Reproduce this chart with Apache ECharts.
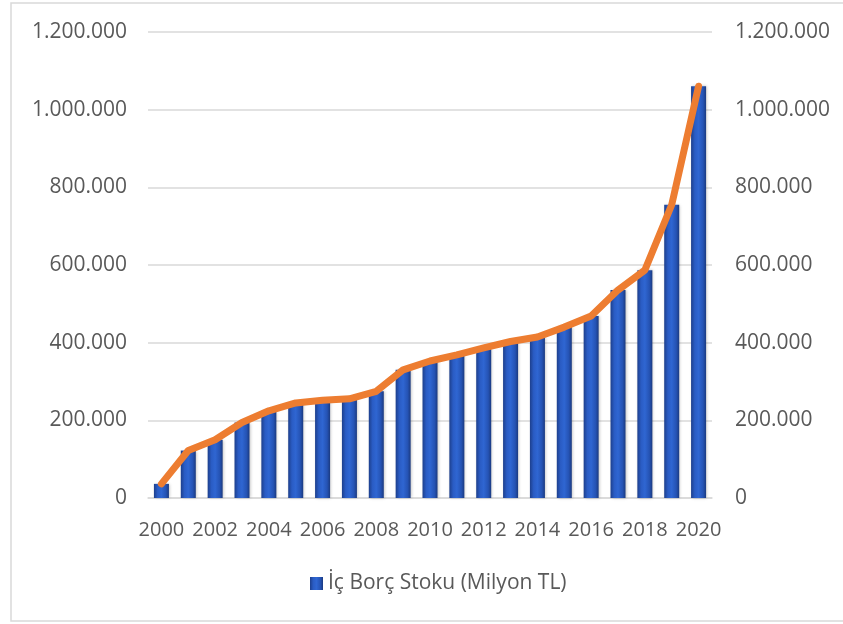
<!DOCTYPE html>
<html><head><meta charset="utf-8">
<script src="https://cdn.jsdelivr.net/npm/echarts@6/dist/echarts.min.js"></script>
<style>html,body{margin:0;padding:0;background:#fff}#c{width:843px;height:624px}</style>
</head><body><div id="c"></div>
<script>
const years = ['2000','2001','2002','2003','2004','2005','2006','2007','2008','2009','2010','2011','2012','2013','2014','2015','2016','2017','2018','2019','2020'];
const debtStock = [36400,122200,149900,194400,224500,244800,251500,255300,274800,330000,352800,368500,386500,403000,414600,440100,468600,535400,586700,755100,1060400];
const seriesName = 'İç Borç Stoku (Milyon TL)';

const fmt = v => String(v).replace(/\B(?=(\d{3})+(?!\d))/g, '.');
const chart = echarts.init(document.getElementById('c'), null, {renderer:'canvas'});
const font = 'Open Sans, Liberation Sans, sans-serif';
const barGrad = new echarts.graphic.LinearGradient(0,0,1,0,[
  {offset:0,color:'#1d3f8c'},{offset:0.25,color:'#2a5cc4'},{offset:0.5,color:'#2f66d2'},{offset:0.8,color:'#2553b4'},{offset:1,color:'#1b3a80'}]);
chart.setOption({
  animation:false,
  backgroundColor:'#fff',
  graphic:[{type:'rect',shape:{x:11,y:3,width:840,height:618},style:{fill:'none',stroke:'#d9d9d9',lineWidth:1.5},silent:true}],
  grid:{left:148,right:131,top:32,bottom:126,containLabel:false},
  legend:{data:[{name:seriesName,icon:'rect',itemStyle:{color:barGrad}}],bottom:25,left:305,itemWidth:13,itemHeight:13,itemGap:6,
    textStyle:{fontFamily:font,fontSize:21,color:'#595959'}},
  xAxis:{type:'category',data:years,
    axisLine:{lineStyle:{color:'#d9d9d9',width:1.5}},axisTick:{show:false},
    axisLabel:{interval:1,fontFamily:font,fontSize:20,color:'#595959',margin:22}},
  yAxis:[
    {type:'value',min:0,max:1200000,interval:200000,
     axisLabel:{formatter:fmt,fontFamily:font,fontSize:21,color:'#595959',margin:21},
     splitLine:{lineStyle:{color:'#d9d9d9',width:1.5}},axisLine:{show:false},axisTick:{show:false}},
    {type:'value',min:0,max:1200000,interval:200000,position:'right',
     axisLabel:{formatter:fmt,fontFamily:font,fontSize:21,color:'#595959',margin:23},
     splitLine:{show:false},axisLine:{show:false},axisTick:{show:false}}
  ],
  series:[
    {name:seriesName,type:'bar',data:debtStock,barWidth:15,itemStyle:{color:barGrad,shadowColor:'rgba(0,0,0,0.25)',shadowBlur:3,shadowOffsetX:1}},
    {name:'line',type:'line',yAxisIndex:1,data:debtStock,symbol:'none',
     lineStyle:{color:'#ed7d31',width:7,cap:'round',join:'round'}}
  ]
});
</script></body></html>
